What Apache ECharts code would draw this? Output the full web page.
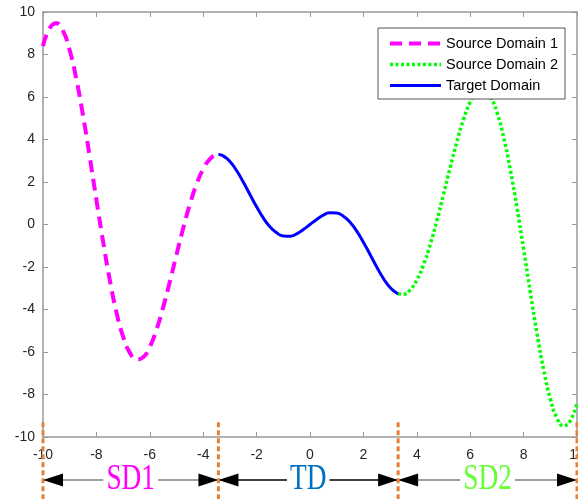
<!DOCTYPE html>
<html><head><meta charset="utf-8">
<script src="https://cdn.jsdelivr.net/npm/echarts@6/dist/echarts.min.js"></script>
<style>html,body{margin:0;padding:0;background:#fff}#c{width:578px;height:499px}</style>
</head><body><div id="c"></div><script>
// ---- data ----
const seriesNames = ['Source Domain 1', 'Source Domain 2', 'Target Domain'];
const sd1X = [-10, -9.75, -9.5, -9.25, -9, -8.75, -8.5, -8.25, -8, -7.75, -7.5, -7.25, -7, -6.75, -6.5, -6.25, -6, -5.75, -5.5, -5.25, -5, -4.75, -4.5, -4.25, -4, -3.75, -3.5, -3.43];
const sd1Y = [8.39, 9.24, 9.47, 9.11, 8.20, 6.83, 5.12, 3.18, 1.16, -0.80, -2.60, -4.13, -5.28, -6.03, -6.35, -6.25, -5.76, -4.95, -3.90, -2.69, -1.42, -0.18, 0.95, 1.90, 2.61, 3.08, 3.28, 3.29];
const tdX = [-3.43, -3.25, -3, -2.75, -2.5, -2.25, -2, -1.75, -1.5, -1.25, -1, -0.75, -0.5, -0.25, 0, 0.25, 0.5, 0.75, 1, 1.25, 1.5, 1.75, 2, 2.25, 2.5, 2.75, 3, 3.25, 3.3];
const tdY = [3.29, 3.23, 2.97, 2.54, 2.00, 1.41, 0.83, 0.31, -0.11, -0.39, -0.54, -0.55, -0.44, -0.24, 0, 0.24, 0.44, 0.55, 0.54, 0.39, 0.11, -0.31, -0.83, -1.41, -2.00, -2.54, -2.97, -3.23, -3.26];
const sd2X = [3.3, 3.5, 3.75, 4, 4.25, 4.5, 4.75, 5, 5.25, 5.5, 5.75, 6, 6.25, 6.5, 6.75, 7, 7.25, 7.5, 7.75, 8, 8.25, 8.5, 8.75, 9, 9.25, 9.5, 9.75, 10];
const sd2Y = [-3.26, -3.28, -3.08, -2.61, -1.90, -0.95, 0.18, 1.42, 2.69, 3.90, 4.95, 5.76, 6.25, 6.35, 6.03, 5.28, 4.13, 2.60, 0.80, -1.16, -3.18, -5.12, -6.83, -8.20, -9.11, -9.47, -9.24, -8.39];
const domainBounds = [-10, -3.43, 3.3, 10];
const domainLabels = ['SD1', 'TD', 'SD2'];
const axisMin = -10, axisMax = 10, axisStep = 2;

// ---- styles ----
const labelColors = ['#FF00FF', '#0070C0', '#66FF33'];
const arrowLineColors = ['#808080', '#000000', '#808080'];
const AX = '#999999', TXT = '#262626';

const zip = (xs, ys) => xs.map((x, i) => [x, ys[i]]);
const chart = echarts.init(document.getElementById('c'), null, {renderer: 'canvas'});

const baseX = {type: 'value', min: axisMin, max: axisMax, interval: axisStep, splitLine: {show: false},
  axisLine: {onZero: false, lineStyle: {color: AX, width: 1.5}},
  axisTick: {inside: true, length: 5, lineStyle: {color: AX, width: 1}}};
const baseY = JSON.parse(JSON.stringify(baseX));

chart.setOption({
  animation: false,
  backgroundColor: '#fff',
  grid: {left: 43, right: 1, top: 12, bottom: 62, containLabel: false, outerBoundsMode: 'none'},
  legend: {
    orient: 'vertical', left: 378, top: 28,
    data: seriesNames,
    itemWidth: 51, itemHeight: 14, itemGap: 6, itemTextGap: 4,
    padding: [8, 7, 6, 10],
    itemStyle: {opacity: 0},
    lineStyle: {width: 'inherit'},
    backgroundColor: '#fff', borderColor: '#555', borderWidth: 1, borderRadius: 0,
    textStyle: {fontFamily: 'Liberation Sans', fontSize: 14.5, color: '#000'}
  },
  xAxis: [
    Object.assign({}, baseX, {position: 'bottom',
      axisLabel: {fontFamily: 'Liberation Sans', fontSize: 14, color: TXT, margin: 11}}),
    Object.assign({}, baseX, {position: 'top', axisLabel: {show: false}})
  ],
  yAxis: [
    Object.assign({}, baseY, {position: 'left',
      axisLabel: {fontFamily: 'Liberation Sans', fontSize: 14, color: TXT, margin: 8}}),
    Object.assign({}, baseY, {position: 'right', axisLabel: {show: false}})
  ],
  series: [
    {name: seriesNames[0], type: 'line', data: zip(sd1X, sd1Y), smooth: true, showSymbol: false, symbol: 'none', symbolSize: 0,
      lineStyle: {color: '#FF00FF', width: 4, type: [12, 7]}, itemStyle: {color: '#FF00FF'}, z: 3},
    {name: seriesNames[1], type: 'line', data: zip(sd2X, sd2Y), smooth: true, showSymbol: false, symbol: 'none', symbolSize: 0,
      lineStyle: {color: '#00FF00', width: 3.5, type: [3, 2.5]}, itemStyle: {color: '#00FF00'}, z: 3},
    {name: seriesNames[2], type: 'line', data: zip(tdX, tdY), smooth: true, showSymbol: false, symbol: 'none', symbolSize: 0,
      lineStyle: {color: '#0000FF', width: 3}, itemStyle: {color: '#0000FF'}, z: 4}
  ]
});

// annotations below the axis, placed through the axis scales
const arrowRowY = -12.02, guideTop = -9.3, guideBottom = -13.2;
const px = v => chart.convertToPixel({xAxisIndex: 0}, v);
const py = v => chart.convertToPixel({yAxisIndex: 0}, v);
const ay = py(arrowRowY);
const g = [];
for (let i = 0; i < domainLabels.length; i++) {
  const x0 = px(domainBounds[i]), x1 = px(domainBounds[i + 1]);
  g.push({type: 'line', shape: {x1: x0, y1: ay, x2: x1, y2: ay}, style: {stroke: arrowLineColors[i], lineWidth: 1.5}, z: 10});
  g.push({type: 'polygon', shape: {points: [[x0, ay], [x0 + 20, ay - 6.5], [x0 + 20, ay + 6.5]]}, style: {fill: '#000'}, z: 11});
  g.push({type: 'polygon', shape: {points: [[x1, ay], [x1 - 20, ay - 6.5], [x1 - 20, ay + 6.5]]}, style: {fill: '#000'}, z: 11});
  g.push({type: 'text', x: (x0 + x1) / 2, y: ay, scaleX: 0.78, z: 12,
    style: {text: domainLabels[i], fill: labelColors[i], font: '35px "Liberation Serif"',
      align: 'center', verticalAlign: 'middle', backgroundColor: '#fff', padding: [0, 4]}});
}
domainBounds.forEach(b => {
  g.push({type: 'line', shape: {x1: px(b), y1: py(guideTop), x2: px(b), y2: py(guideBottom)},
    style: {stroke: '#ED7D31', lineWidth: 3, lineDash: [5, 3]}, z: 20});
});
chart.setOption({graphic: g});
</script></body></html>
